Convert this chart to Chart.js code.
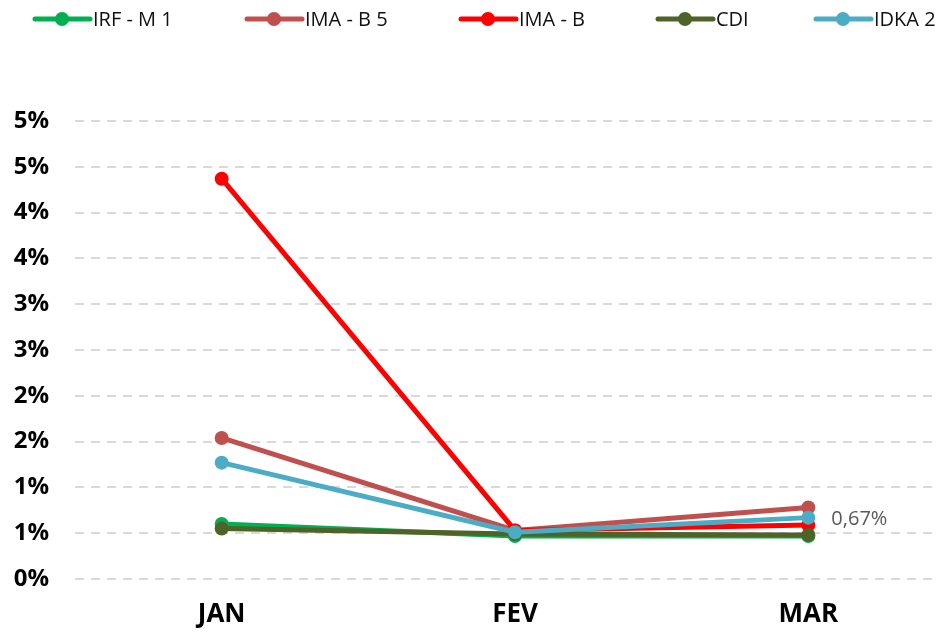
<!DOCTYPE html>
<html>
<head>
<meta charset="utf-8">
<script src="https://cdn.jsdelivr.net/npm/chart.js@4/dist/chart.umd.min.js"></script>
<style>
  html, body { margin: 0; padding: 0; background: #fff; }
  canvas { display: block; }
</style>
</head>
<body>
<canvas id="chart" width="940" height="633"></canvas>
<script>
// categories and series (monthly return, %)
const months  = ['JAN', 'FEV', 'MAR'];
const irfM1   = [0.60, 0.47, 0.47];
const imaB5   = [1.54, 0.53, 0.78];
const imaB    = [4.37, 0.53, 0.59];
const cdi     = [0.55, 0.49, 0.48];
const idka2   = [1.27, 0.51, 0.67];

const seriesNames  = ['IRF - M 1', 'IMA - B 5', 'IMA - B', 'CDI', 'IDKA 2'];
const seriesValues = [irfM1, imaB5, imaB, cdi, idka2];
const colors       = ['#00B050', '#C0504D', '#FF0000', '#4F6228', '#4BACC6'];

const legendX = [35, 247, 461, 658, 816];
const FONT = '"Open Sans", "Liberation Sans", sans-serif';

const datasets = seriesNames.map((name, i) => ({
  label: name,
  data: seriesValues[i].map((v, j) => ({ x: j, y: v })),
  borderColor: colors[i],
  backgroundColor: colors[i],
  borderWidth: 5,
  pointRadius: 7,
  pointHoverRadius: 7,
  pointBorderWidth: 0,
  tension: 0,
  order: seriesNames.length - i
}));

// legend drawn at the top, like the Excel one
const topLegend = {
  id: 'topLegend',
  afterDraw(chart) {
    const ctx = chart.ctx;
    ctx.save();
    ctx.font = '20px ' + FONT;
    ctx.textBaseline = 'middle';
    seriesNames.forEach((name, i) => {
      const x = legendX[i], y = 19;
      ctx.strokeStyle = colors[i];
      ctx.lineWidth = 5;
      ctx.lineCap = 'round';
      ctx.beginPath();
      ctx.moveTo(x, y);
      ctx.lineTo(x + 55, y);
      ctx.stroke();
      ctx.fillStyle = colors[i];
      ctx.beginPath();
      ctx.arc(x + 27, y, 7, 0, Math.PI * 2);
      ctx.fill();
      ctx.fillStyle = '#111';
      ctx.fillText(name, x + 58, y + 1);
    });
    ctx.restore();
  }
};

// single data label on IDKA 2 at MAR
const idkaLabel = {
  id: 'idkaLabel',
  afterDatasetsDraw(chart) {
    const pt = chart.getDatasetMeta(4).data[2];
    const ctx = chart.ctx;
    ctx.save();
    ctx.font = '20px ' + FONT;
    ctx.fillStyle = '#595959';
    ctx.textBaseline = 'middle';
    ctx.fillText(idka2[2].toFixed(2).replace('.', ',') + '%', pt.x + 23, pt.y + 2);
    ctx.restore();
  }
};

new Chart(document.getElementById('chart'), {
  type: 'line',
  data: { datasets },
  options: {
    responsive: false,
    animation: false,
    layout: { padding: { top: 121, right: 5, left: 0, bottom: 0 } },
    plugins: {
      legend: { display: false },
      tooltip: { enabled: false }
    },
    scales: {
      x: {
        type: 'linear',
        min: -0.5,
        max: 2.425,
        afterBuildTicks: axis => { axis.ticks = months.map((m, i) => ({ value: i })); },
        afterFit: axis => { axis.height = 54; },
        grid: { display: false, drawTicks: false },
        border: { display: false },
        ticks: {
          padding: 20,
          color: '#000',
          font: { family: FONT, size: 26, weight: 'bold' },
          callback: v => months[v]
        }
      },
      y: {
        min: 0,
        max: 5,
        afterFit: axis => { axis.width = 75; },
        afterBuildTicks: axis => {
          const t = [];
          for (let k = 0; k <= 10; k++) t.push({ value: k * 0.5 });
          axis.ticks = t;
        },
        grid: { color: '#D9D9D9', lineWidth: 2, drawTicks: false },
        border: { display: false, dash: [9, 7] },
        ticks: {
          padding: 26,
          color: '#000',
          font: { family: FONT, size: 24, weight: 'bold' },
          callback: v => Math.round(v) + '%'
        }
      }
    }
  },
  plugins: [topLegend, idkaLabel]
});
</script>
</body>
</html>
